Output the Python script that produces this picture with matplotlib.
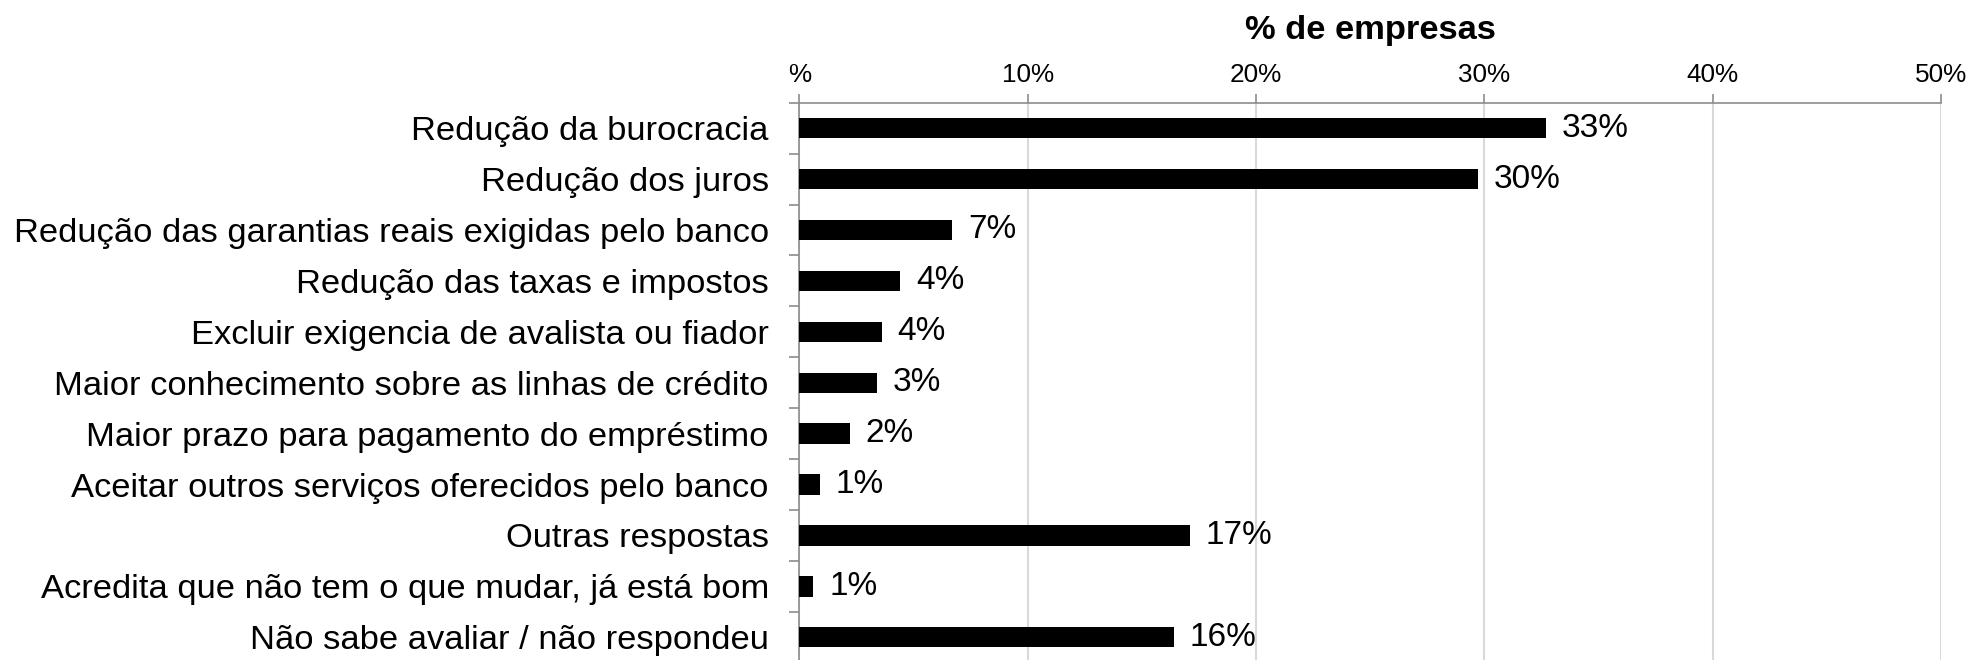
import matplotlib
matplotlib.use('Agg')
import matplotlib.pyplot as plt
from matplotlib.ticker import FixedLocator
import numpy as np

# Motivos apontados pelas empresas (% de empresas)
categorias = [
    "Redução da burocracia",
    "Redução dos juros",
    "Redução das garantias reais exigidas pelo banco",
    "Redução das taxas e impostos",
    "Excluir exigencia de avalista ou fiador",
    "Maior conhecimento sobre as linhas de crédito",
    "Maior prazo para pagamento do empréstimo",
    "Aceitar outros serviços oferecidos pelo banco",
    "Outras respostas",
    "Acredita que não tem o que mudar, já está bom",
    "Não sabe avaliar / não respondeu",
]
percentuais = [32.7, 29.7, 6.7, 4.4, 3.6, 3.4, 2.2, 0.9, 17.1, 0.6, 16.4]
ticks_x = [0, 10, 20, 30, 40, 50]
rotulos_x = ["%", "10%", "20%", "30%", "40%", "50%"]

plt.rcParams['font.family'] = ['Liberation Sans', 'DejaVu Sans']

fig = plt.figure(figsize=(19.7, 6.6), dpi=100)
ax = fig.add_axes([0.4058, -0.0041, 0.5795, 0.8485])

y = np.arange(len(categorias))
ax.barh(y, percentuais, height=0.4, color='black', zorder=3)

for yi, v in zip(y, percentuais):
    ax.annotate("{:.0f}%".format(v), xy=(v, yi), xytext=(11.5, 0),
                textcoords='offset points', va='center', ha='left',
                fontsize=24, color='black')

ax.set_xlim(0, 50)
ax.set_ylim(len(categorias) - 0.5, -0.5)

# eixo x no topo
ax.xaxis.tick_top()
ax.xaxis.set_label_position('top')
ax.set_xticks(ticks_x)
ax.set_xticklabels(rotulos_x, fontsize=18.8)
ax.tick_params(axis='x', direction='out', length=6.5, width=1.2,
               color='#8c8c8c', pad=5)
ax.set_xlabel("% de empresas", fontsize=24.8, fontweight='bold', labelpad=17)

# rótulos das categorias e marcas entre as barras
ax.set_yticks(y)
ax.set_yticklabels(categorias, fontsize=24.8)
ax.tick_params(axis='y', which='major', length=0, pad=22)
ax.yaxis.set_minor_locator(FixedLocator(np.arange(-0.5, len(categorias), 1)))
ax.tick_params(axis='y', which='minor', direction='out', length=7.2,
               width=1.2, color='#8c8c8c')

ax.grid(axis='x', color='#d9d9d9', linewidth=1.5, zorder=0)
for lado in ['right', 'bottom']:
    ax.spines[lado].set_visible(False)
for lado in ['top', 'left']:
    ax.spines[lado].set_color('#8c8c8c')
    ax.spines[lado].set_linewidth(1.2)

plt.savefig("out.png", dpi=100)
